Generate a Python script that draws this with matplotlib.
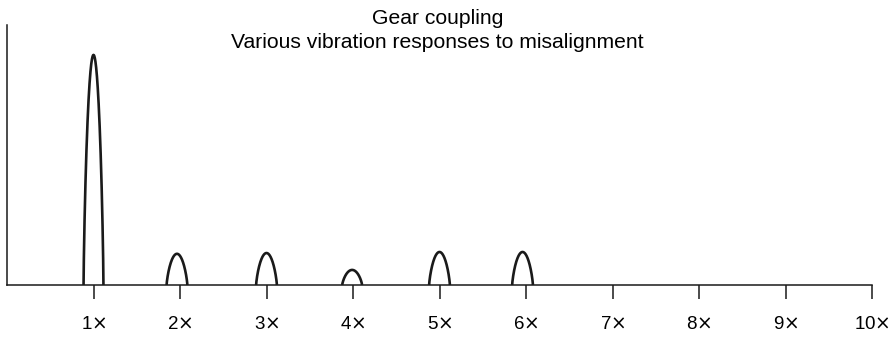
import numpy as np
import matplotlib.pyplot as plt

plt.rcParams['font.family'] = ['Liberation Sans', 'DejaVu Sans']
plt.rcParams['mathtext.fontset'] = 'dejavusans'

# harmonic orders on the x axis and the response peaks drawn on them
orders = [1, 2, 3, 4, 5, 6, 7, 8, 9, 10]
tick_labels = [r'1$\times$', r'2$\times$', r'3$\times$', r'4$\times$', r'5$\times$',
               r'6$\times$', r'7$\times$', r'8$\times$', r'9$\times$', r'10$\times$']
peak_centers = [1.0, 1.965, 3.0, 3.99, 5.0, 5.96]
peak_heights = [0.885, 0.12, 0.123, 0.058, 0.127, 0.127]
peak_halfwidths = [0.115, 0.12, 0.12, 0.115, 0.12, 0.12]

title_lines = ['Gear coupling', 'Various vibration responses to misalignment']

line_color = '#1a1a1a'

fig = plt.figure(figsize=(8.96, 3.4), dpi=100)
ax = fig.add_axes([7 / 896, 55 / 340, 865 / 896, 260 / 340])


def peak_curve(center, height, halfwidth, n=200):
    # rounded arch: steep flanks near the base, narrow cap at the top
    u = np.linspace(-1, 1, n)
    y = height * np.clip(1 - u ** 2, 0, None) ** (1 / 1.3)
    return center + u * halfwidth, y


for c, h, w in zip(peak_centers, peak_heights, peak_halfwidths):
    px, py = peak_curve(c, h, w)
    ax.plot(px, py, color=line_color, lw=1.9, solid_capstyle='butt')

ax.set_xlim(0, 10)
ax.set_ylim(0, 1)
ax.spines['top'].set_visible(False)
ax.spines['right'].set_visible(False)
for s in ('left', 'bottom'):
    ax.spines[s].set_linewidth(1.1)
    ax.spines[s].set_color(line_color)

ax.set_xticks(orders)
ax.set_xticklabels(tick_labels, fontsize=13.5)
ax.tick_params(axis='x', direction='out', length=10, width=1.1,
               color=line_color, pad=12)
ax.set_yticks([])

fig.text(0.488, 1 - 9 / 340, '\n'.join(title_lines), ha='center', va='top',
         fontsize=15.2, linespacing=1.32, color='black')

fig.savefig('out.png', dpi=100)
